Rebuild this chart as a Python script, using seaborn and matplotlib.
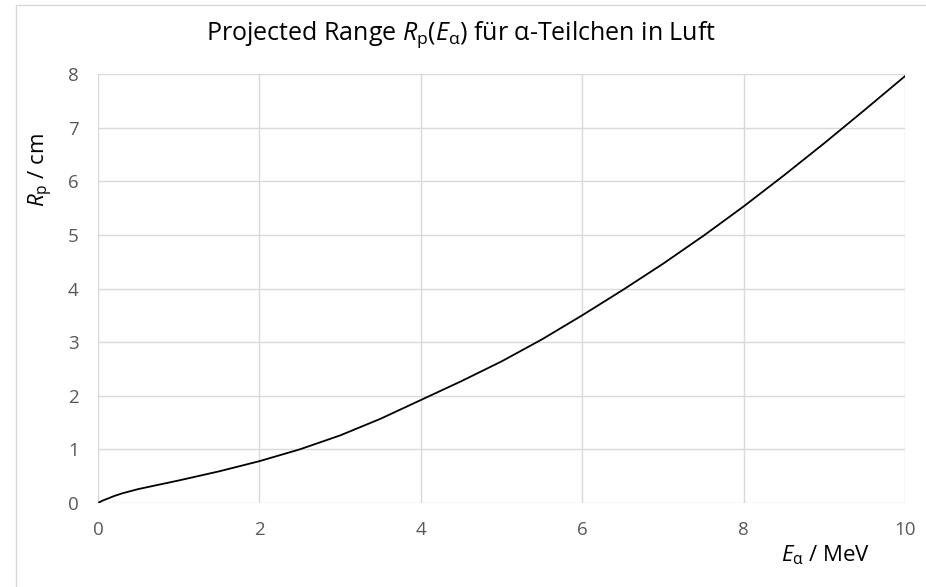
import matplotlib
matplotlib.use("Agg")
import matplotlib.pyplot as plt
import seaborn as sns
import pandas as pd
from matplotlib.patches import Rectangle

# Data
energy_mev = [0.0, 0.05, 0.1, 0.2, 0.3, 0.5, 0.75, 1.0, 1.5, 2.0, 2.5, 3.0,
              3.5, 4.0, 4.5, 5.0, 5.5, 6.0, 6.5, 7.0, 7.5, 8.0, 8.5, 9.0, 9.5, 10.0]
range_cm = [0.0, 0.04, 0.07, 0.13, 0.18, 0.26, 0.34, 0.42, 0.59, 0.78, 1.00, 1.26,
            1.57, 1.92, 2.27, 2.64, 3.05, 3.50, 3.97, 4.46, 4.98, 5.53, 6.11, 6.71, 7.33, 7.96]
x_ticks = [0, 2, 4, 6, 8, 10]
y_ticks = [0, 1, 2, 3, 4, 5, 6, 7, 8]

sns.set_theme(style="whitegrid")
plt.rcParams['font.family'] = ['Open Sans', 'DejaVu Sans']
plt.rcParams['mathtext.fontset'] = 'custom'
plt.rcParams['mathtext.rm'] = 'Open Sans'
plt.rcParams['mathtext.it'] = 'Open Sans:italic'
plt.rcParams['mathtext.bf'] = 'Open Sans:bold'

df = pd.DataFrame({"E": energy_mev, "R": range_cm})

fig = plt.figure(figsize=(9.26, 5.87), dpi=100)
ax = fig.add_axes([98/926, 1-503/587, (905-98)/926, (503-74)/587])

sns.lineplot(data=df, x="E", y="R", ax=ax, color="black", linewidth=1.3)

ax.set_xlim(0, 10)
ax.set_ylim(0, 8)
ax.set_xticks(x_ticks)
ax.set_yticks(y_ticks)
ax.set_xticklabels([str(t) for t in x_ticks])
ax.set_yticklabels([str(t) for t in y_ticks])
ax.grid(True, color="#d9d9d9", linewidth=1.0)
for s in ax.spines.values():
    s.set_visible(False)
ax.set_facecolor("white")
ax.tick_params(axis="both", length=0, labelsize=13.5, labelcolor="#595959")
ax.tick_params(axis="x", pad=13)
ax.tick_params(axis="y", pad=14)
ax.set_xlabel("")
ax.set_ylabel("")

fig.text(461/926, 1-35/587, r"Projected Range $R_\mathrm{p}(E_\mathrm{α})$ für α-Teilchen in Luft",
         ha="center", va="center", fontsize=18, color="#000000")
fig.text(826/926, 1-555/587, r"$E_\mathrm{α}$ / MeV", ha="center", va="center",
         fontsize=16, color="#000000")
fig.text(41/926, 1-170/587, r"$R_\mathrm{p}$ / cm", ha="center", va="center",
         rotation=90, fontsize=16, color="#000000")

fig.patches.append(Rectangle((16/926, -0.01), 1.0, 1-5/587 + 0.01, transform=fig.transFigure,
                             fill=False, edgecolor="#d9d9d9", linewidth=1.0, figure=fig))

fig.savefig("out.png", dpi=100, facecolor="white")
